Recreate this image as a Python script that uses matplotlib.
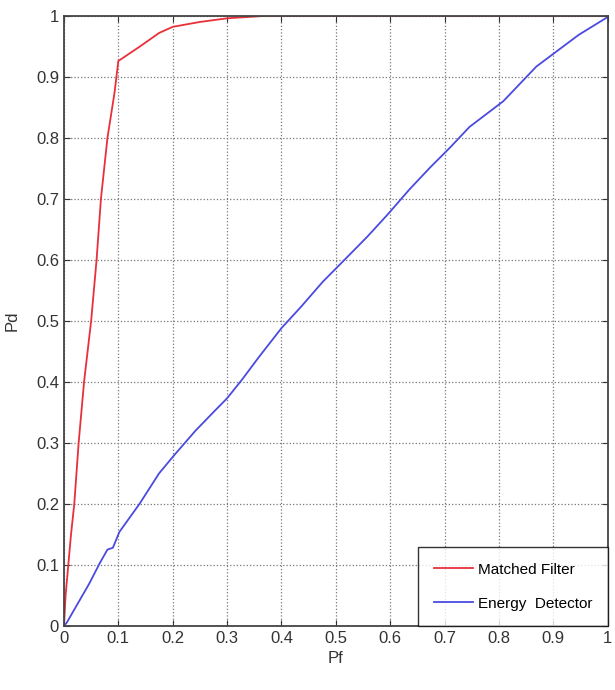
#!/usr/bin/env python3

# ROC curves: matched filter vs energy detector

import matplotlib
matplotlib.use('Agg')
import matplotlib.pyplot as plt
import numpy as np

plt.rcParams['font.family'] = ['Liberation Sans', 'DejaVu Sans']

mf_pf = [0, 0.003, 0.008, 0.013, 0.019, 0.027, 0.037, 0.050, 0.060, 0.068,
         0.080, 0.093, 0.100, 0.140, 0.175, 0.200, 0.250, 0.300, 0.370, 1.0]
mf_pd = [0, 0.05, 0.10, 0.15, 0.20, 0.30, 0.40, 0.50, 0.60, 0.70,
         0.80, 0.874, 0.926, 0.950, 0.972, 0.982, 0.990, 0.996, 1.0, 1.0]

ed_pf = [0, 0.005, 0.047, 0.066, 0.080, 0.090, 0.102, 0.139, 0.175, 0.203,
         0.242, 0.279, 0.300, 0.327, 0.358, 0.400, 0.436, 0.476, 0.516, 0.558,
         0.595, 0.635, 0.673, 0.710, 0.746, 0.808, 0.869, 0.905, 0.947, 1.0]
ed_pd = [0, 0.005, 0.070, 0.103, 0.125, 0.128, 0.154, 0.200, 0.250, 0.280,
         0.320, 0.354, 0.373, 0.403, 0.440, 0.488, 0.523, 0.564, 0.600, 0.638,
         0.674, 0.715, 0.751, 0.784, 0.818, 0.860, 0.917, 0.941, 0.969, 0.998]

ticks = np.round(np.arange(0, 1.01, 0.1), 1)
tick_labels = ['0', '0.1', '0.2', '0.3', '0.4', '0.5', '0.6', '0.7', '0.8', '0.9', '1']

fig = plt.figure(figsize=(6.15, 6.9), dpi=100)
ax = fig.add_axes([0.104, 0.093, 0.884, 0.884])

ax.plot(mf_pf, mf_pd, color='#e8303a', lw=1.3, label='Matched Filter')
ax.plot(ed_pf, ed_pd, color='#4a4ae0', lw=1.3, label='Energy  Detector')

ax.set_xlim(0, 1)
ax.set_ylim(0, 1)
ax.set_xticks(ticks)
ax.set_yticks(ticks)
ax.set_xticklabels(tick_labels)
ax.set_yticklabels(tick_labels)
ax.tick_params(direction='in', length=4, labelsize=12, colors='#333333',
               top=True, right=True)
ax.grid(True, linestyle=':', color='#777777', lw=0.9)
for s in ax.spines.values():
    s.set_color('#444444')
    s.set_linewidth(1.3)

ax.set_xlabel('Pf', fontsize=12, color='#333333', labelpad=4)
ax.set_ylabel('Pd', fontsize=12, color='#333333', labelpad=12)

leg = ax.legend(loc='lower right', fontsize=11, frameon=True, fancybox=False,
                borderaxespad=0, handlelength=2.6, handletextpad=0.3,
                borderpad=1.0, labelspacing=1.3)
leg.get_frame().set_edgecolor('black')
leg.get_frame().set_linewidth(1.0)

fig.savefig('out.png', dpi=100)
